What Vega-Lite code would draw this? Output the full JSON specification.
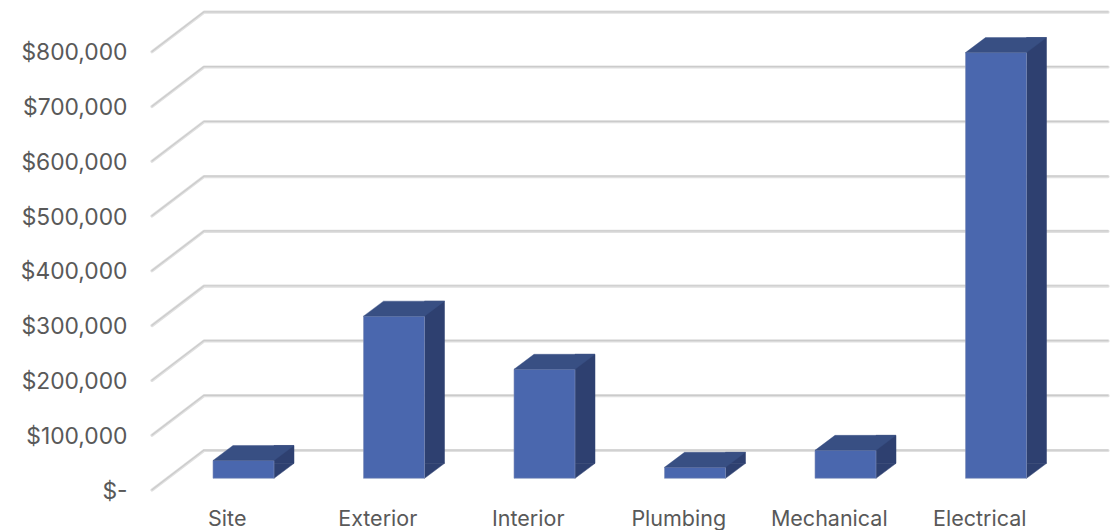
{
  "$schema": "https://vega.github.io/schema/vega-lite/v6.json",
  "width": 903,
  "height": 438.3,
  "autosize": "none",
  "padding": {"left": 152, "top": 51.7, "right": 65, "bottom": 40},
  "background": "#ffffff",
  "config": {
    "view": {"stroke": null},
    "font": "Inter",
    "axis": {"domain": false, "ticks": false, "grid": false, "labelColor": "#595959", "labelFont": "Inter"},
    "axisX": {"labelAngle": 0, "labelPadding": 18, "labelFontSize": 21.5},
    "axisY": {"labelPadding": 25, "labelFontSize": 22.8, "labelOffset": 1}
  },
  "datasets": {
    "costs": [
      {"trade": "Site", "cost": 32500},
      {"trade": "Exterior", "cost": 296000},
      {"trade": "Interior", "cost": 199000},
      {"trade": "Plumbing", "cost": 20000},
      {"trade": "Mechanical", "cost": 51000},
      {"trade": "Electrical", "cost": 777000}
    ],
    "levels": [
      {"level": 0}, {"level": 100000}, {"level": 200000}, {"level": 300000}, {"level": 400000},
      {"level": 500000}, {"level": 600000}, {"level": 700000}, {"level": 800000}
    ]
  },
  "layer": [
    {
      "description": "Gridline running up the side wall and along the back wall",
      "data": {"name": "levels"},
      "mark": {"type": "point", "shape": "M-75.25 0 L-23.25 -39.5 L880.75 -39.5", "size": 4, "filled": false, "stroke": "#e0e0e0", "strokeWidth": 3.2, "strokeCap": "round", "strokeJoin": "round", "opacity": 1},
      "encoding": {
        "x": {"datum": "Site", "type": "nominal", "title": null, "sort": null, "scale": {"paddingInner": 0, "paddingOuter": 0}},
        "y": {
          "field": "level", "type": "quantitative", "title": null,
          "scale": {"domain": [0, 800000], "nice": false},
          "axis": {
            "values": [0, 100000, 200000, 300000, 400000, 500000, 600000, 700000, 800000],
            "labelExpr": "datum.value === 0 ? '$-' : format(datum.value, '$,')"
          }
        }
      }
    },
    {
      "description": "Darker core of the gridline",
      "data": {"name": "levels"},
      "mark": {"type": "point", "shape": "M-75.25 -0.3 L-23.25 -39.9 L880.75 -39.9", "size": 4, "filled": false, "stroke": "#cbcbcb", "strokeWidth": 1.2, "strokeCap": "round", "strokeJoin": "round", "opacity": 1},
      "encoding": {
        "x": {"datum": "Site", "type": "nominal", "title": null},
        "y": {"field": "level", "type": "quantitative", "title": null}
      }
    },
    {
      "description": "Column side: lower triangle",
      "data": {"name": "costs"},
      "mark": {"type": "point", "shape": "M30.5 0 L50.5 -15 L30.5 -15 Z", "size": 4, "filled": true, "fill": "#2e4070", "stroke": "#2e4070", "strokeWidth": 0.5, "opacity": 1, "xOffset": 16.25, "yOffset": -11.7},
      "encoding": {
        "x": {"field": "trade", "type": "nominal", "sort": null, "title": null},
        "y": {"datum": 0, "type": "quantitative", "title": null}
      }
    },
    {
      "description": "Column side: upright part",
      "data": {"name": "costs"},
      "mark": {"type": "bar", "width": 20, "fill": "#2e4070", "stroke": "#2e4070", "strokeWidth": 0.5, "xOffset": 56.75, "yOffset": -26.7, "y2Offset": -26.7},
      "encoding": {
        "x": {"field": "trade", "type": "nominal", "sort": null, "title": null},
        "y": {"field": "cost", "type": "quantitative", "title": null},
        "y2": {"datum": 0}
      }
    },
    {
      "description": "Column front",
      "data": {"name": "costs"},
      "mark": {"type": "bar", "width": 61, "fill": "#4a67ae", "stroke": "#7f8fb8", "strokeWidth": 0.6, "xOffset": 16.25, "yOffset": -11.7, "y2Offset": -11.7},
      "encoding": {
        "x": {"field": "trade", "type": "nominal", "sort": null, "title": null},
        "y": {"field": "cost", "type": "quantitative", "title": null},
        "y2": {"datum": 0}
      }
    },
    {
      "description": "Column top",
      "data": {"name": "costs"},
      "mark": {"type": "point", "shape": "M-30.5 0 L30.5 0 L50.5 -15 L-10.5 -15 Z", "size": 4, "filled": true, "fill": "#384f83", "stroke": "#384f83", "strokeWidth": 0.4, "opacity": 1, "xOffset": 16.25, "yOffset": -11.7},
      "encoding": {
        "x": {"field": "trade", "type": "nominal", "sort": null, "title": null},
        "y": {"field": "cost", "type": "quantitative", "title": null}
      }
    }
  ]
}
